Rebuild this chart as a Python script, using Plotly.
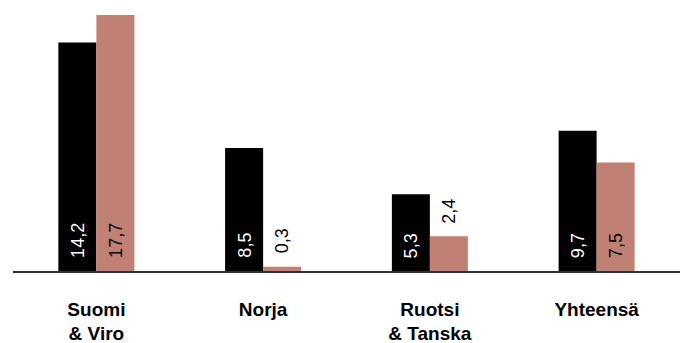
import plotly.graph_objects as go

categories = ["Suomi<br>& Viro", "Norja", "Ruotsi<br>& Tanska", "Yhteensä"]
series_black = [15.8, 8.5, 5.3, 9.7]
series_salmon = [17.7, 0.3, 2.4, 7.5]
labels_black = ["14,2", "8,5", "5,3", "9,7"]
labels_salmon = ["17,7", "0,3", "2,4", "7,5"]
salmon_inside = [True, False, False, True]

BLACK = "#000000"
SALMON = "#c08073"
FONT = "Liberation Sans"

fig = go.Figure()
fig.add_trace(go.Bar(x=categories, y=series_black, marker=dict(color=BLACK, line=dict(width=0)),
                     hoverinfo="skip"))
fig.add_trace(go.Bar(x=categories, y=series_salmon, marker=dict(color=SALMON, line=dict(width=0)),
                     hoverinfo="skip"))

annotations = []
for i, cat in enumerate(categories):
    annotations.append(dict(x=cat, y=0, xref="x", yref="y", text=labels_black[i],
                            textangle=-90, showarrow=False, xanchor="center", yanchor="bottom",
                            xshift=-19, yshift=11, font=dict(family=FONT, size=18, color="#ffffff")))
    if salmon_inside[i]:
        yv = 0
    else:
        yv = series_salmon[i]
    annotations.append(dict(x=cat, y=yv, xref="x", yref="y", text=labels_salmon[i],
                            textangle=-90, showarrow=False, xanchor="center", yanchor="bottom",
                            xshift=19, yshift=11, font=dict(family=FONT, size=18, color="#000000")))

fig.update_layout(
    width=684, height=343,
    margin=dict(l=13, r=4, t=0, b=72, autoexpand=False),
    paper_bgcolor="white", plot_bgcolor="white",
    barmode="group", bargap=0.544, bargroupgap=0,
    showlegend=False,
    annotations=annotations,
    font=dict(family=FONT, color="#000000"),
)
fig.update_xaxes(showline=True, linecolor="#333333", linewidth=1.5, showgrid=False,
                 ticks="", ticklabelstandoff=20, automargin=False,
                 tickfont=dict(family=FONT, size=19, color="#000000", weight="bold"))
fig.update_yaxes(range=[0, 18.73], visible=False, showgrid=False, zeroline=False)

fig.write_html("out.html")
